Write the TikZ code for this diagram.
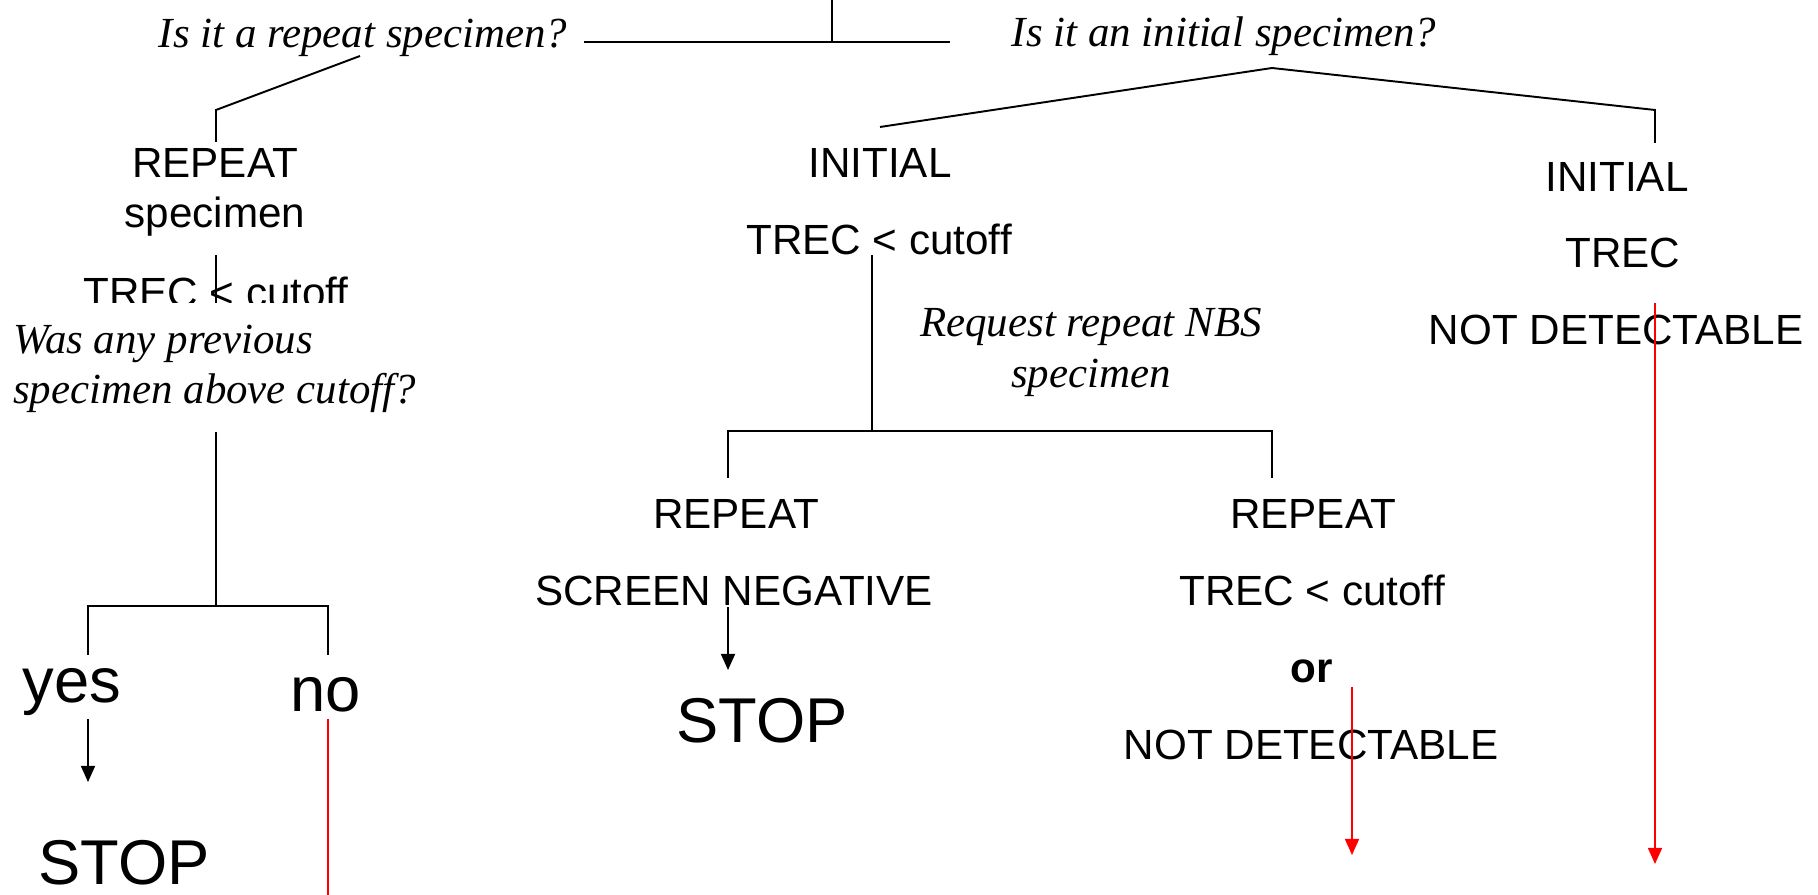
\documentclass[tikz,border=0pt]{standalone}
\usepackage{fontspec}
\setmainfont{Liberation Serif}
\setsansfont{Liberation Sans}
\usetikzlibrary{arrows.meta}
\tikzset{
	lbl/.style={font=\sffamily\fontsize{12}{14}\selectfont, inner sep=0pt, anchor=base},
	biglbl/.style={font=\sffamily\fontsize{18}{21}\selectfont, inner sep=0pt, anchor=base},
	ask/.style={font=\itshape\fontsize{12.2}{14.2}\selectfont, inner sep=0pt, anchor=base},
	wire/.style={line width=0.55pt},
	go/.style={wire, -{Triangle[width=4pt,length=4.6pt]}},
	redgo/.style={go, draw=red, fill=red},
}

\begin{document}
\begin{tikzpicture}[x=0.01cm, y=-0.01cm]
			%%%%% START %%%%%
			\useasboundingbox (0, 0) rectangle (1818, 895);
			
			\coordinate (top) at (832, 0);
			\coordinate (topj) at (832, 42);
			\coordinate (barl) at (584, 42);
			\coordinate (barr) at (950, 42);
			\coordinate (rq) at (360, 56);
			\coordinate (rk) at (216, 110);
			\coordinate (rf) at (216, 142);
			\coordinate (apex) at (1272, 68);
			\coordinate (il) at (880, 127);
			\coordinate (ik) at (1655, 110);
			\coordinate (if) at (1655, 143);
			
			\draw[wire] (top) -- (topj);
			\draw[wire] (barl) -- (barr);
			\draw[wire] (rq) -- (rk) -- (rf);
			\draw[wire] (il) -- (apex) -- (ik) -- (if);
			
			\node[ask] (qrep) at (363, 48) {Is it a repeat specimen?};
			\node[ask] (qini) at (1224, 47) {Is it an initial specimen?};
			
			% left branch
			\node[lbl] (rep1) at (215, 178) {REPEAT};
			\node[lbl] (spec1) at (215, 228) {specimen};
			\node[lbl] (trec1) at (216, 308) {TREC < cutoff};
			\coordinate (s1) at (216, 255);
			\coordinate (s2) at (216, 310);
			\draw[wire] (s1) -- (s2);
			
			\node[ask, anchor=north west, align=left, fill=white, inner xsep=1pt, inner ysep=6.5pt] (prev) at (9, 302) {Was any previous\\specimen above cutoff?};
			
			\coordinate (p1) at (216, 432);
			\coordinate (p2) at (216, 606);
			\coordinate (yl) at (88, 606);
			\coordinate (nl) at (328, 606);
			\coordinate (yd) at (88, 655);
			\coordinate (nd) at (328, 655);
			\draw[wire] (p1) -- (p2);
			\draw[wire] (yd) -- (yl) -- (nl) -- (nd);
			
			\node[biglbl] (yes) at (72, 703) {yes};
			\node[biglbl] (no) at (326, 712) {no};
			\node[biglbl] (stop1) at (124, 885) {STOP};
			
			\coordinate (ya) at (88, 719);
			\coordinate (yb) at (88, 782);
			\draw[go] (ya) -- (yb);
			\coordinate (na) at (328, 719);
			\coordinate (nb) at (328, 896);
			\draw[wire, red] (na) -- (nb);
			
			% middle branch
			\node[lbl] (ini1) at (880, 178) {INITIAL};
			\node[lbl] (trec2) at (879, 255) {TREC < cutoff};
			\node[ask] (req1) at (1091, 337) {Request repeat NBS};
			\node[ask] (req2) at (1091, 388) {specimen};
			
			\coordinate (m1) at (872, 255);
			\coordinate (m2) at (872, 431);
			\coordinate (ml) at (728, 431);
			\coordinate (mr) at (1272, 431);
			\coordinate (mld) at (728, 478);
			\coordinate (mrd) at (1272, 478);
			\draw[wire] (m1) -- (m2);
			\draw[wire] (mld) -- (ml) -- (mr) -- (mrd);
			
			\node[lbl] (rep2) at (736, 529) {REPEAT};
			\node[lbl] (neg) at (734, 606) {SCREEN NEGATIVE};
			\node[biglbl] (stop2) at (762, 743) {STOP};
			\coordinate (ga) at (728, 607);
			\coordinate (gb) at (728, 670);
			\draw[go] (ga) -- (gb);
			
			\node[lbl] (rep3) at (1313, 529) {REPEAT};
			\node[lbl] (trec3) at (1312, 606) {TREC < cutoff};
			\node[lbl, font=\sffamily\bfseries\fontsize{12}{14}\selectfont] (or) at (1312, 683) {or};
			\node[lbl] (nd1) at (1311, 760) {NOT DETECTABLE};
			\coordinate (ra) at (1352, 687);
			\coordinate (rb) at (1352, 855);
			\draw[redgo] (ra) -- (rb);
			
			% right branch
			\node[lbl] (ini2) at (1617, 192) {INITIAL};
			\node[lbl] (trec4) at (1623, 268) {TREC};
			\node[lbl] (nd2) at (1616, 345) {NOT DETECTABLE};
			\coordinate (fa) at (1655, 303);
			\coordinate (fb) at (1655, 864);
			\draw[redgo] (fa) -- (fb);
			
			%%%%% END %%%%%
\end{tikzpicture}
\end{document}
